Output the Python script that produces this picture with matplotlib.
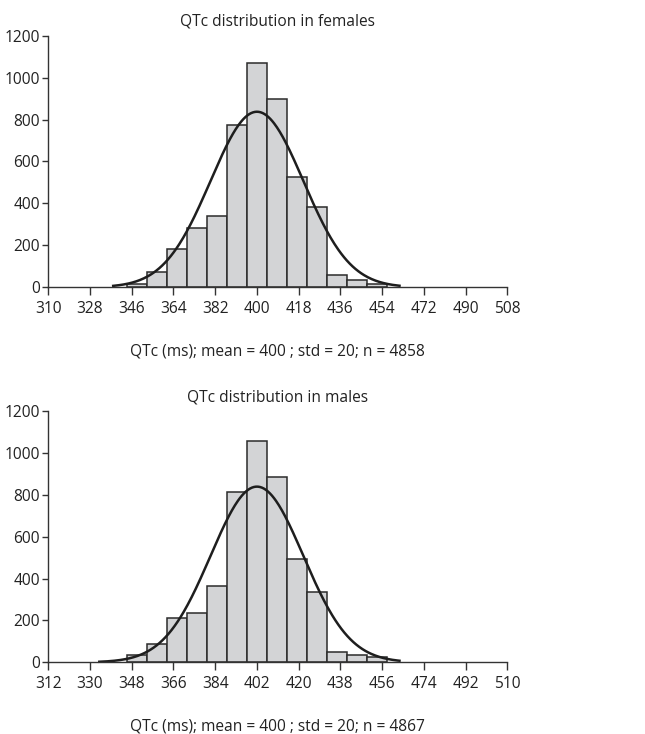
import numpy as np
import matplotlib
matplotlib.use("Agg")
import matplotlib.pyplot as plt

plt.rcParams['font.family'] = ['Open Sans', 'DejaVu Sans']

# bin width (about 8.64 ms)
bin_width = 8.64

# females
f_center = 400
f_counts = [15, 72, 184, 283, 342, 773, 1072, 897, 525, 385, 60, 37, 17]
f_ticks = [310, 328, 346, 364, 382, 400, 418, 436, 454, 472, 490, 508]
f_mean, f_std, f_n = 400, 20, 4858
f_curve_range = (338, 461.5)

# males
m_center = 402
m_counts = [37, 89, 210, 237, 363, 815, 1055, 883, 495, 336, 51, 33, 24]
m_ticks = [312, 330, 348, 366, 384, 402, 420, 438, 456, 474, 492, 510]
m_mean, m_std, m_n = 400, 20, 4867
m_curve_range = (334, 463.5)

y_ticks = [0, 200, 400, 600, 800, 1000, 1200]

fig = plt.figure(figsize=(6.45, 7.34), dpi=100)
ax_f = fig.add_axes([0.0749, 0.6086, 0.7116, 0.3428])
ax_m = fig.add_axes([0.0749, 0.0977, 0.7116, 0.3424])

FS = 11.2


def draw_panel(ax, center, counts, ticks, mean, std, n, curve_range, title):
    k = np.arange(len(counts)) - len(counts) // 2
    centers = center + k * bin_width
    ax.bar(centers, counts, width=bin_width, color='#d3d4d6',
           edgecolor='#2b2b2b', linewidth=1.1, zorder=2)

    # fitted normal curve, drawn around the bar centre
    xs = np.linspace(curve_range[0], curve_range[1], 300)
    ys = n * bin_width / (std * np.sqrt(2 * np.pi)) * np.exp(-0.5 * ((xs - center) / std) ** 2)
    ax.plot(xs, ys, color='#1e1e1e', linewidth=1.8, zorder=3, clip_on=False)

    ax.set_xlim(ticks[0], ticks[-1])
    ax.set_ylim(0, 1200)
    ax.set_xticks(ticks)
    ax.set_yticks(y_ticks)
    for s in ['top', 'right']:
        ax.spines[s].set_visible(False)
    for s in ['left', 'bottom']:
        ax.spines[s].set_color('#333333')
        ax.spines[s].set_linewidth(1.0)
        ax.spines[s].set_zorder(4)
    ax.tick_params(axis='x', length=6, width=1.0, color='#333333',
                   labelsize=FS, labelcolor='#222222', pad=4)
    ax.tick_params(axis='y', length=4, width=1.0, color='#333333',
                   labelsize=FS, labelcolor='#222222', pad=2)
    ax.set_title(title, fontsize=FS, color='#222222', pad=7)
    ax.set_xlabel(f'QTc (ms); mean = {mean} ; std = {std}; n = {n}',
                  fontsize=FS, color='#222222', labelpad=19)


draw_panel(ax_f, f_center, f_counts, f_ticks, f_mean, f_std, f_n,
           f_curve_range, 'QTc distribution in females')
draw_panel(ax_m, m_center, m_counts, m_ticks, m_mean, m_std, m_n,
           m_curve_range, 'QTc distribution in males')

fig.savefig('out.png', dpi=100)
